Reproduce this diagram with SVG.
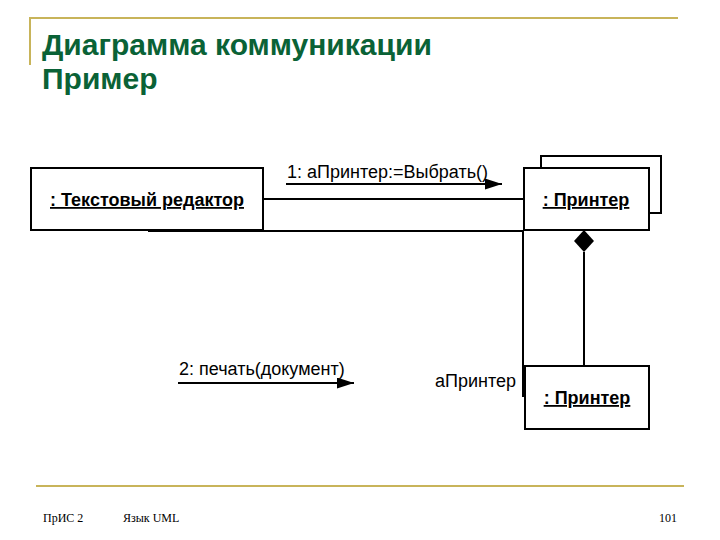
<svg xmlns="http://www.w3.org/2000/svg" width="720" height="540" viewBox="0 0 720 540">
<style>
.title{font-family:"Liberation Sans",Arial,sans-serif;font-weight:bold;font-size:30px;fill:#0A6236}
.gold{stroke:#C8B45A;stroke-width:2;fill:none}
.box{fill:#fff;stroke:#000;stroke-width:2}
.obj{font-family:"Liberation Sans",Arial,sans-serif;font-weight:bold;font-size:18px;text-decoration:underline;text-anchor:middle;fill:#000}
.lbl{font-family:"Liberation Sans",Arial,sans-serif;font-size:18px;fill:#000}
.ln{stroke:#000;stroke-width:2;fill:none}
.foot{font-family:"Liberation Serif","Times New Roman",serif;font-size:12px;fill:#000}
</style>
<defs>
<marker id="arr" viewBox="0 0 17 11" refX="17" refY="5.5" markerWidth="17" markerHeight="11" markerUnits="userSpaceOnUse" orient="auto">
<path d="M0,0 L17,5.5 L0,11 Z" fill="#000"/>
</marker>
</defs>
<rect width="720" height="540" fill="#fff"/>
<g id="frame">
<line class="gold" x1="29" y1="18" x2="678" y2="18"/>
<line class="gold" x1="30" y1="18" x2="30" y2="65"/>
<line class="gold" x1="36" y1="486" x2="684" y2="486"/>
</g>
<g id="title">
<text class="title" x="42" y="55">Диаграмма коммуникации</text>
<text class="title" x="42" y="89">Пример</text>
</g>
<g id="connectors">
<line class="ln" x1="263" y1="199" x2="524" y2="199"/>
<polyline class="ln" points="148,231 523,231 523,397"/>
<line class="ln" x1="584" y1="252" x2="584" y2="366"/>
<path d="M584,230 L594,241 L584,252 L574,241 Z" fill="#000"/>
<line class="ln" x1="286" y1="184" x2="502" y2="184" marker-end="url(#arr)"/>
<line class="ln" x1="178" y1="383" x2="354" y2="383" marker-end="url(#arr)"/>
<text class="lbl" x="287" y="178">1: аПринтер:=Выбрать()</text>
<text class="lbl" x="179" y="375">2: печать(документ)</text>
<text class="lbl" x="435" y="387">аПринтер</text>
</g>
<g id="editor">
<rect class="box" x="31" y="168" width="232" height="62"/>
<text class="obj" x="147" y="206">: Текстовый редактор</text>
</g>
<g id="printers">
<rect class="box" x="541" y="156" width="120" height="57"/>
<rect class="box" x="524" y="168" width="125" height="62"/>
<text class="obj" x="586" y="206">: Принтер</text>
</g>
<g id="printer">
<rect class="box" x="525" y="366" width="124" height="63"/>
<text class="obj" x="587" y="404">: Принтер</text>
</g>
<g id="footer">
<text class="foot" x="43" y="522">ПрИС 2</text>
<text class="foot" x="123" y="522">Язык UML</text>
<text class="foot" x="677" y="522" text-anchor="end">101</text>
</g>
</svg>
